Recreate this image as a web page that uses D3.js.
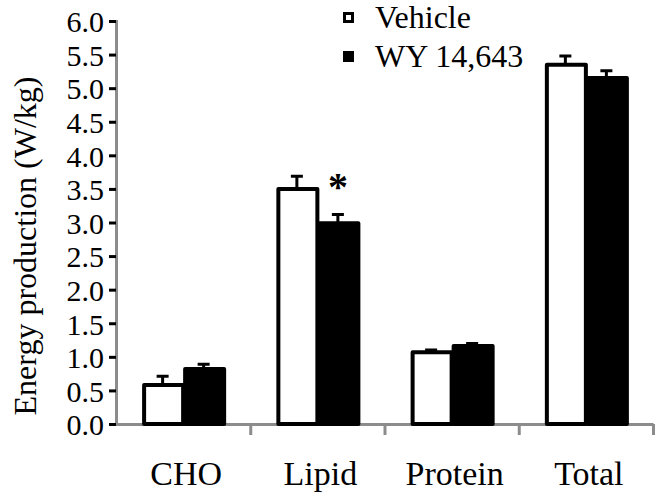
<!DOCTYPE html>
<html>
<head>
<meta charset="utf-8">
<script src="https://cdn.jsdelivr.net/npm/d3@7"></script>
<style>
  body { margin: 0; background: #fff; }
</style>
</head>
<body>
<div id="vis"></div>
<script>
// values (W/kg)
var categories = ["CHO", "Lipid", "Protein", "Total"];
var seriesNames = ["Vehicle", "WY 14,643"];
var vehicle    = [0.58, 3.50, 1.07, 5.35];
var vehicleSem = [0.13, 0.19, 0.03, 0.13];
var wy         = [0.82, 2.99, 1.16, 5.15];
var wySem      = [0.07, 0.13, 0.04, 0.11];
var yTicks     = [0, 0.5, 1, 1.5, 2, 2.5, 3, 3.5, 4, 4.5, 5, 5.5, 6];
var starred    = ["Lipid"];   // significance mark over WY bar

var width = 664, height = 494;
var axisX = 116, axisY = 424;
var serif = "'Liberation Serif', 'Times New Roman', Times, serif";

var svg = d3.select("#vis").append("svg")
    .attr("width", width).attr("height", height)
    .attr("font-family", serif);
svg.append("rect").attr("width", width).attr("height", height).attr("fill", "#fff");

var y = d3.scaleLinear().domain([0, 6]).range([axisY, 21]);
var x0 = d3.scaleBand().domain(categories).range([axisX, 653])
    .paddingInner(0.389).paddingOuter(0.1945);
var x1 = d3.scaleBand().domain(seriesNames).range([0, x0.bandwidth()]);

var data = categories.map(function(c, i) {
  return [
    {cat: c, s: seriesNames[0], v: vehicle[i], e: vehicleSem[i], fill: "#fff"},
    {cat: c, s: seriesNames[1], v: wy[i], e: wySem[i], fill: "#000"}
  ];
});

// y axis
var gy = svg.append("g").attr("transform", "translate(" + axisX + ",0)")
    .call(d3.axisLeft(y).tickValues(yTicks).tickFormat(d3.format(".1f")).tickSize(7).tickPadding(5))
    .attr("font-family", serif).attr("font-size", 30);
gy.select(".domain").attr("stroke", "#8c8c8c").attr("stroke-width", 3);
gy.selectAll(".tick line").attr("stroke", "#000").attr("stroke-width", 3);
gy.selectAll(".tick text").attr("fill", "#000").attr("dy", "0.36em");

// x axis
var xAx = d3.scaleLinear().domain([0, 4]).range([axisX, 653]);
var gx = svg.append("g").attr("transform", "translate(0," + axisY + ")")
    .call(d3.axisBottom(xAx).tickValues([1, 2, 3, 4]).tickFormat("").tickSize(11).tickSizeOuter(0));
gx.select(".domain").attr("stroke", "#8c8c8c").attr("stroke-width", 3);
gx.selectAll(".tick line").attr("stroke", "#8c8c8c").attr("stroke-width", 3);

svg.append("g").selectAll("text.cat")
  .data(categories).enter().append("text")
  .attr("class", "cat")
  .attr("x", function(d) { return x0(d) + x0.bandwidth() / 2 + 3; })
  .attr("y", 485)
  .attr("text-anchor", "middle")
  .attr("font-size", 34)
  .text(function(d) { return d; });

// bars
var groups = svg.append("g").selectAll("g.grp")
  .data(data).enter().append("g")
  .attr("transform", function(d) { return "translate(" + x0(d[0].cat) + ",0)"; });

groups.selectAll("g.bar")
  .data(function(d) { return d; }).enter().append("g")
  .each(function(d) {
    var g = d3.select(this);
    var cx = x1(d.s) + x1.bandwidth() / 2;
    g.append("path")
      .attr("d", "M" + cx + "," + y(d.v) + "V" + y(d.v + d.e) + "M" + (cx - 6) + "," + y(d.v + d.e) + "H" + (cx + 6))
      .attr("stroke", "#000").attr("stroke-width", 3).attr("fill", "none");
    g.append("rect")
      .attr("x", x1(d.s) + 2)
      .attr("y", y(d.v))
      .attr("width", x1.bandwidth() - 2)
      .attr("height", axisY - y(d.v))
      .attr("fill", d.fill)
      .attr("stroke", "#000").attr("stroke-width", 4)
      .attr("stroke-linejoin", "round");
  });

// significance asterisk
groups.filter(function(d) { return starred.indexOf(d[0].cat) >= 0; })
  .append("text")
  .attr("x", function(d) { return x1(d[1].s) + x1.bandwidth() / 2; })
  .attr("y", function(d) { return y(d[1].v + d[1].e) - 14; })
  .attr("text-anchor", "middle")
  .attr("font-size", 40).attr("font-weight", "bold")
  .text("*");

// legend
var leg = svg.append("g").selectAll("g.leg")
  .data(seriesNames).enter().append("g")
  .attr("transform", function(d, i) { return "translate(343," + (12 + i * 39) + ")"; });
leg.append("rect")
  .attr("x", 1.5).attr("y", 1.5).attr("width", 8).attr("height", 8)
  .attr("fill", function(d, i) { return i ? "#000" : "#fff"; })
  .attr("stroke", "#000").attr("stroke-width", 3);
leg.append("text")
  .attr("x", 32).attr("y", 16)
  .attr("font-size", 32)
  .text(function(d) { return d; });

// y title
svg.append("text")
  .attr("transform", "translate(36,246) rotate(-90)")
  .attr("text-anchor", "middle")
  .attr("font-size", 32)
  .text("Energy production (W/kg)");
</script>
</body>
</html>
